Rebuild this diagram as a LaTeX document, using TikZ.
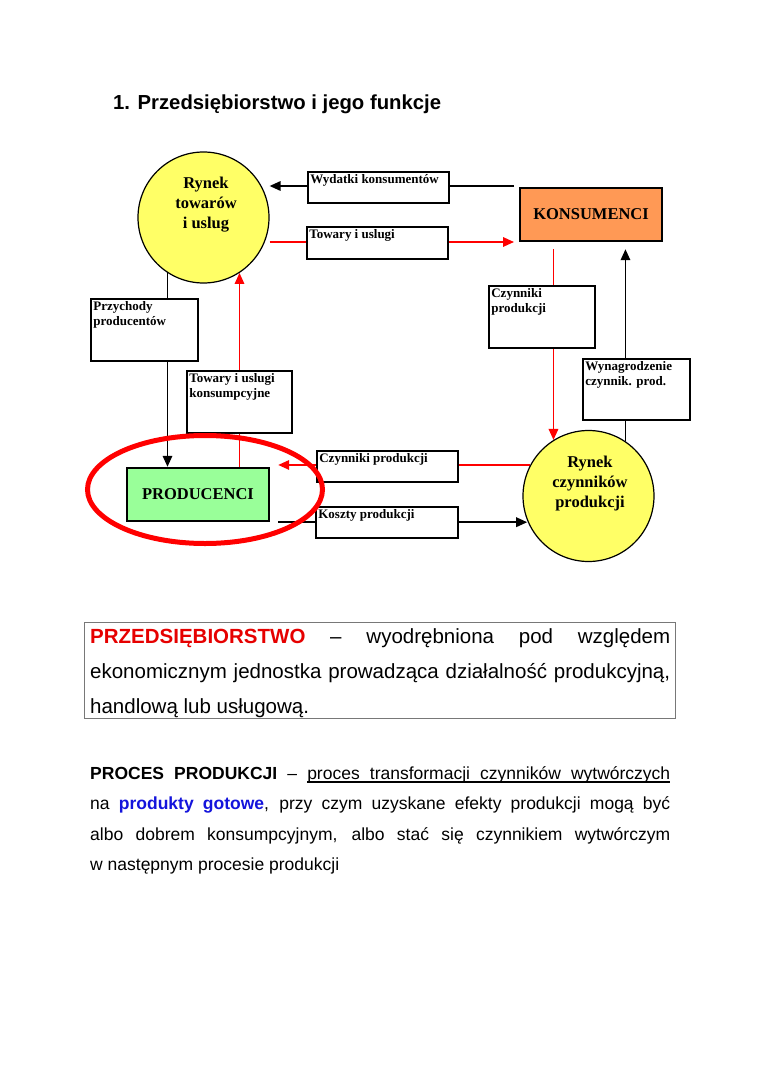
\documentclass[tikz,border=0pt]{standalone}
\usepackage{fontspec}
\usepackage{xcolor}
\usetikzlibrary{arrows.meta,shapes.geometric}
\newfontfamily\arl{Liberation Sans}
\newfontfamily\tnr{Liberation Serif}
\definecolor{cyel}{RGB}{255,255,102}
\definecolor{corg}{RGB}{255,153,85}
\definecolor{cgrn}{RGB}{153,255,153}
\definecolor{cred}{RGB}{255,0,0}
\definecolor{tred}{RGB}{230,0,0}
\definecolor{tblue}{RGB}{20,20,220}
\definecolor{cgray}{RGB}{120,120,120}
\newsavebox\myulbox
\newcommand\myul[1]{\sbox\myulbox{#1}\rlap{\vrule height -2.4pt depth 3.6pt width \wd\myulbox}\usebox\myulbox}
\newcommand\myuls{\leaders\hrule height -2.4pt depth 3.6pt\hskip 0.278em plus 1fil\relax}
\newcommand\mysp{\hskip 0.278em plus 1fil\relax}
\pgfdeclarelayer{bg}
\pgfsetlayers{bg,main}
\begin{document}
\begin{tikzpicture}[x=1pt,y=-1pt,
  arr/.style={-{Triangle[length=11pt,width=9.5pt]}},
  bl/.style={draw=black,line width=1.7pt},
  rl/.style={draw=cred,line width=1.7pt},
  lbox/.style={draw=black,fill=white,line width=1.7pt,inner sep=0pt},
  ltxt/.style={anchor=north west,inner sep=3pt,align=left,font=\tnr\bfseries\fontsize{13}{15}\selectfont},
  bigtxt/.style={font=\tnr\bfseries\fontsize{16.5}{20}\selectfont,align=center},
  mkt/.style={circle,draw=black,line width=1.2pt,fill=cyel,minimum size=131pt,inner sep=0pt},
  actor/.style={draw=black,line width=2.4pt,minimum width=142pt,minimum height=53pt,inner sep=0pt,font=\tnr\bfseries\fontsize{16.5}{20}\selectfont}
]
\useasboundingbox (0,0) rectangle (760,1075);
\begin{pgfonlayer}{bg}
\fill[white] (0,0) rectangle (760,1075);
\end{pgfonlayer}

\node[anchor=base west,inner sep=0pt,font=\arl\bfseries\fontsize{20.3}{24}\selectfont] (title) at (113,110) {1. Przedsiębiorstwo i jego funkcje};

% main nodes
\node[mkt] (c1) at (203.5,217.5) {};
\node[bigtxt] (c1t) at (206,205) {Rynek\\towarów\\i uslug};
\node[mkt] (c2) at (588.5,496) {};
\node[bigtxt] (c2t) at (590,484) {Rynek\\czynników\\produkcji};
\node[actor,fill=corg] (k) at (591,214.5) {KONSUMENCI};
\node[actor,fill=cgrn] (p) at (198,494.5) {PRODUCENCI};

% label boxes
\node[lbox,minimum width=141pt,minimum height=31pt,label={[ltxt]north west:Wydatki konsumentów}] (b1) at (378.5,187.5) {};
\node[lbox,minimum width=141pt,minimum height=32pt,label={[ltxt]north west:Towary i uslugi}] (b2) at (377.5,243) {};
\node[lbox,minimum width=106pt,minimum height=62pt,label={[ltxt]north west:{Czynniki\\produkcji}}] (b3) at (542,317) {};
\node[lbox,minimum width=107pt,minimum height=61pt,label={[ltxt]north west:{Wynagrodzenie\\czynnik. prod.}}] (b4) at (636.5,389.5) {};
\node[lbox,minimum width=141pt,minimum height=31pt,label={[ltxt]north west:Czynniki produkcji}] (b5) at (387.5,466.5) {};
\node[lbox,minimum width=142pt,minimum height=31pt,label={[ltxt]north west:Koszty produkcji}] (b6) at (387,522.5) {};
\node[lbox,minimum width=107pt,minimum height=62pt,label={[ltxt]north west:{Przychody\\producentów}}] (b7) at (144.5,330) {};
\node[lbox,minimum width=105pt,minimum height=62pt,label={[ltxt]north west:{Towary i uslugi\\konsumpcyjne}}] (b8) at (239.5,402) {};

\coordinate (kw1) at (514,186);
\coordinate (kw2) at (514,242);

\begin{pgfonlayer}{bg}
\draw[bl,arr] (kw1) -- (kw1 -| c1.east);
\draw[rl,arr] (kw2 -| c1.east) -- (kw2);
\draw[rl,arr,shorten <=7pt] (c2.122 |- k.south) -- (c2.122);
\draw[bl,arr,shorten >=7pt] (c2.56) -- (c2.56 |- k.south);
\draw[rl,arr,shorten >=8pt] (c2.152) -- (c2.152 -| p.east);
\draw[bl,arr,shorten <=8pt] (p.south east) -- (p.south east -| c2.202);
\draw[bl,arr] (c1.237) -- (c1.237 |- p.north);
\draw[rl,arr] (c1.303 |- p.north) -- (c1.303);
\end{pgfonlayer}

% red ellipse
\draw[cred,line width=5pt] (205,489.5) ellipse [x radius=117.5pt,y radius=54pt];

% definition box
\node[draw=cgray,line width=1pt,minimum width=591pt,minimum height=96pt,inner sep=0pt] (defbox) at (379.5,670.5) {};
\node[anchor=base west,text width=580pt,align=justify,inner sep=0pt,font=\arl\fontsize{20.5}{35}\selectfont] (deftxt) at (90,643)
{\tolerance=10000\hyphenpenalty=10000\textcolor{tred}{\textbf{PRZEDSIĘBIORSTWO}} – wyodrębniona pod względem\linebreak ekonomicznym jednostka prowadząca działalność produkcyjną,\linebreak handlową lub usługową.};

% process paragraph
\node[anchor=base west,text width=580pt,align=justify,inner sep=0pt,font=\arl\fontsize{17.5}{30.5}\selectfont] (proctxt) at (90,779)
{\tolerance=10000\hyphenpenalty=10000\hbox to \linewidth{\textbf{PROCES}\mysp\textbf{PRODUKCJI}\mysp–\mysp\myul{proces}\myuls\myul{transformacji}\myuls\myul{czynników}\myuls\myul{wytwórczych}}\par
\noindent na \textcolor{tblue}{\textbf{produkty gotowe}}, przy czym uzyskane efekty produkcji mogą być\linebreak albo dobrem konsumpcyjnym, albo stać się czynnikiem wytwórczym\linebreak w następnym procesie produkcji};
\end{tikzpicture}
\end{document}
